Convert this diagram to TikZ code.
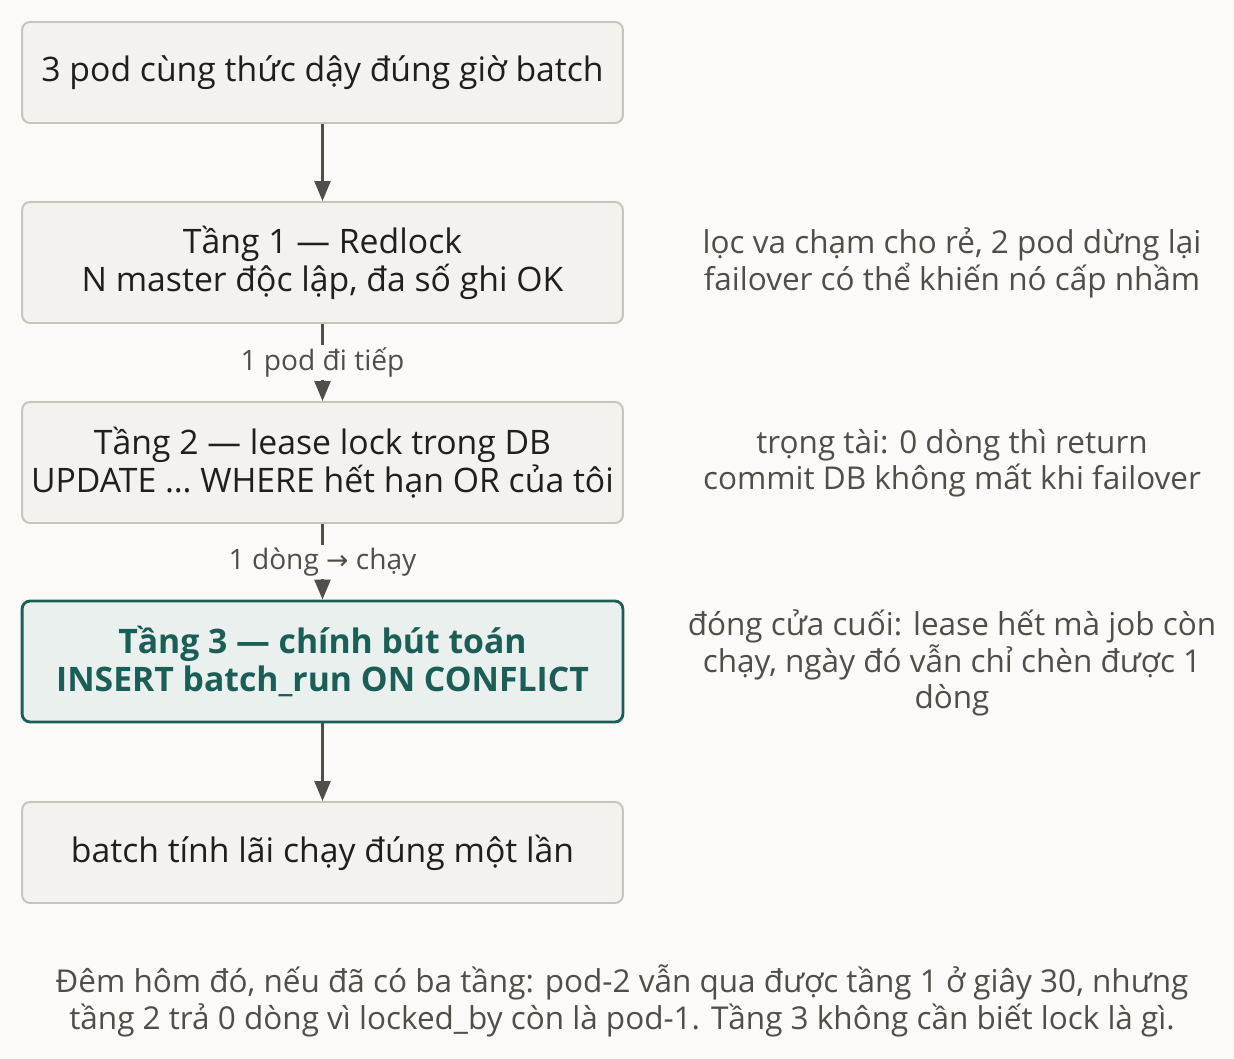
\documentclass[tikz,border=0pt]{standalone}
\usepackage{fontspec}
\setmainfont{Open Sans}
\newfontfamily\symfont{DejaVu Sans}
\usetikzlibrary{arrows.meta}

\definecolor{bgpaper}{HTML}{FBFAF8}
\definecolor{boxfill}{HTML}{F3F2EF}
\definecolor{boxline}{HTML}{C8C4BC}
\definecolor{inkdark}{HTML}{1F1F1C}
\definecolor{inkgrey}{HTML}{4F4E49}
\definecolor{tealline}{HTML}{1B5E56}
\definecolor{tealfill}{HTML}{E9F0EE}

\tikzset{
  stagebox/.style={draw=boxline, fill=boxfill, line width=1.4pt, rounded corners=0.2cm,
    minimum width=15.02cm, align=center, text=inkdark, font=\fontsize{24}{27}\selectfont},
  keybox/.style={stagebox, draw=tealline, fill=tealfill, line width=2pt, text=tealline,
    font=\fontsize{24}{27}\selectfont\bfseries},
  note/.style={align=center, text=inkgrey, font=\fontsize{22.4}{26}\selectfont},
  flowlabel/.style={fill=bgpaper, text=inkgrey, inner sep=2pt, font=\fontsize{20}{23}\selectfont},
  flow/.style={draw=inkgrey, line width=1.8pt, -{Triangle[length=0.5cm, width=0.4cm]}}
}

\begin{document}
\begin{tikzpicture}
  \fill[bgpaper] (0,0) rectangle (30.85,-26.475);
  \useasboundingbox (0,0) rectangle (30.85,-26.475);
  \def\xmain{8.0625}
  \def\xnote{23.8}
  % main column
  \node[stagebox, minimum height=2.525cm] (wake) at (\xmain,-1.8125) {3 pod cùng thức dậy đúng giờ batch};
  \node[stagebox, minimum height=3.025cm] (redlock) at (\xmain,-6.5625) {Tầng 1 — Redlock\\N master độc lập, đa số ghi OK};
  \node[stagebox, minimum height=3.025cm] (lease) at (\xmain,-11.5625) {Tầng 2 — lease lock trong DB\\UPDATE … WHERE hết hạn OR của tôi};
  \node[keybox, minimum height=3.025cm] (insert) at (\xmain,-16.5375) {Tầng 3 — chính bút toán\\INSERT batch\_run ON CONFLICT};
  \node[stagebox, minimum height=2.525cm] (done) at (\xmain,-21.3125) {batch tính lãi chạy đúng một lần};
  %
  \draw[flow] (wake) -- (redlock);
  \draw[flow] (redlock) -- node[flowlabel] {1 pod đi tiếp} (lease);
  \draw[flow] (lease) -- node[flowlabel] {1 dòng {\symfont\fontsize{19}{23}\selectfont →} chạy} (insert);
  \draw[flow] (insert) -- (done);
  % notes on the right
  \node[note] (noteredlock) at (\xnote,-6.575) {lọc va chạm cho rẻ, 2 pod dừng lại\\failover có thể khiến nó cấp nhầm};
  \node[note] (notelease) at (\xnote,-11.575) {trọng tài: 0 dòng thì return\\commit DB không mất khi failover};
  \node[note] (noteinsert) at (\xnote,-16.575) {đóng cửa cuối: lease hết mà job còn\\chạy, ngày đó vẫn chỉ chèn được 1\\dòng};
  %
  \node[note] (caption) at (15.55,-25.025) {Đêm hôm đó, nếu đã có ba tầng: pod-2 vẫn qua được tầng 1 ở giây 30, nhưng\\tầng 2 trả 0 dòng vì locked\_by còn là pod-1. Tầng 3 không cần biết lock là gì.};
\end{tikzpicture}
\end{document}
